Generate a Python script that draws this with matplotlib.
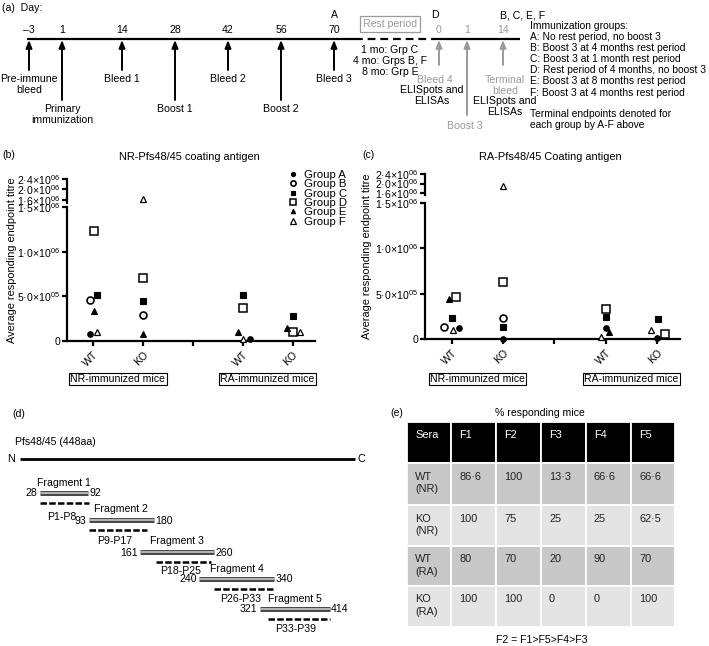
import numpy as np
import matplotlib
matplotlib.use('Agg')
import matplotlib.pyplot as plt
from matplotlib.patches import Rectangle
from matplotlib.lines import Line2D

plt.rcParams['font.family'] = ['Liberation Sans', 'DejaVu Sans']
plt.rcParams['mathtext.fontset'] = 'custom'
plt.rcParams['mathtext.rm'] = 'Liberation Sans'
plt.rcParams['mathtext.default'] = 'regular'

# ------------------------------------------------------------------ data
# (a) immunisation schedule
a_days = [-3, 1, 14, 28, 42, 56, 70]
a_events = ['Pre-immune\nbleed', 'Primary\nimmunization', 'Bleed 1', 'Boost 1',
            'Bleed 2', 'Boost 2', 'Bleed 3']
a_is_boost = [False, True, False, True, False, True, False]
post_days = [0, 1, 14]
post_events = ['Bleed 4', 'Boost 3', 'Terminal\nbleed']
post_is_boost = [False, True, False]
rest_lines = ['1 mo: Grp C', '4 mo: Grps B, F', '8 mo: Grp E']
group_desc = ['Immunization groups:',
              'A: No rest period, no boost 3',
              'B: Boost 3 at 4 months rest period',
              'C: Boost 3 at 1 month rest period',
              'D: Rest period of 4 months, no boost 3',
              'E: Boost 3 at 8 months rest period',
              'F: Boost 3 at 4 months rest period']
endpoint_note = ['Terminal endpoints denoted for', 'each group by A-F above']

# (b), (c) average responding endpoint titres
groups = ['Group A', 'Group B', 'Group C', 'Group D', 'Group E', 'Group F']
categories = ['WT', 'KO', '', 'WT', 'KO']
nan = np.nan
titre_nr = {  # NR-Pfs48/45 coating antigen
    'Group A': [75000, nan, nan, 20000, nan],
    'Group B': [460000, 290000, nan, nan, nan],
    'Group C': [510000, 450000, nan, 515000, 280000],
    'Group D': [1230000, 700000, nan, 370000, 100000],
    'Group E': [340000, 75000, nan, 100000, 145000],
    'Group F': [100000, 1630000, nan, 22000, 100000],
}
titre_ra = {  # RA-Pfs48/45 coating antigen
    'Group A': [120000, 5000, nan, 120000, 15000],
    'Group B': [130000, 230000, nan, nan, nan],
    'Group C': [232000, 130000, nan, 240000, 220000],
    'Group D': [460000, 630000, nan, 330000, 60000],
    'Group E': [440000, nan, nan, 75000, nan],
    'Group F': [100000, 1900000, nan, 20000, 100000],
}
lower_ticks = [0, 5e5, 1e6, 1.5e6]
lower_ticklabels = ['0', '5·0×10$^{05}$', '1·0×10$^{06}$', '1·5×10$^{06}$']
upper_ticks = [1.6e6, 2.0e6, 2.4e6]
upper_ticklabels = ['1·6×10$^{06}$', '2·0×10$^{06}$', '2·4×10$^{06}$']

# (d) Pfs48/45 fragments
protein_len = 448
frag_names = ['Fragment 1', 'Fragment 2', 'Fragment 3', 'Fragment 4', 'Fragment 5']
frag_start = [28, 93, 161, 240, 321]
frag_end = [92, 180, 260, 340, 414]
pep_names = ['P1-P8', 'P9-P17', 'P18-P25', 'P26-P33', 'P33-P39']
pep_start = [28, 93, 183, 260, 332]
pep_end = [93, 170, 256, 340, 415]

# (e) % responding mice
table_cols = ['Sera', 'F1', 'F2', 'F3', 'F4', 'F5']
table_sera = ['WT\n(NR)', 'KO\n(NR)', 'WT\n(RA)', 'KO\n(RA)']
table_vals = [['86·6', '100', '13·3', '66·6', '66·6'],
              ['100', '75', '25', '25', '62·5'],
              ['80', '70', '20', '90', '70'],
              ['100', '100', '0', '0', '100']]

# ------------------------------------------------------------------ layout / style
W, H = 709, 646
fig = plt.figure(figsize=(7.09, 6.46), dpi=100)
bg = fig.add_axes([0, 0, 1, 1])
bg.set_xlim(0, W)
bg.set_ylim(H, 0)
bg.axis('off')
FS = 7.6
GRAY = '#9a9a9a'

def fig_rect(x0, y0, x1, y1):
    return [x0 / W, (H - y1) / H, (x1 - x0) / W, (y1 - y0) / H]

# ---------------- (a)
bg.text(2, 8, '(a)  Day:', fontsize=FS, va='center', ha='left')
xa = lambda d: np.interp(d, [-3, 1, 14, 70], [29, 62, 122, 334])
xp = lambda d: np.interp(d, [0, 1, 14], [439, 467, 503])
yline = 39
bg.plot([27, 355], [yline, yline], color='k', lw=1.6, solid_capstyle='butt')
bg.plot([355, 434], [yline, yline], color='k', lw=1.6, ls=(0, (3.5, 2.2)))
bg.plot([434, 520], [yline, yline], color='k', lw=1.6, solid_capstyle='butt')
for d, ev, boost in zip(a_days, a_events, a_is_boost):
    x = xa(d)
    tail = 100 if boost else 70
    bg.annotate('', xy=(x, yline + 1), xytext=(x, tail),
                arrowprops=dict(arrowstyle='-|>,head_length=0.45,head_width=0.18',
                                color='k', lw=1.4, shrinkA=0, shrinkB=0))
    bg.text(x, 30, str(d).replace('-', '–'), fontsize=FS, ha='center', va='center')
    bg.text(x, tail + 4, ev, fontsize=FS, ha='center', va='top', linespacing=1.15)
bg.text(xa(70), 15, 'A', fontsize=FS, ha='center', va='center')
for d, ev, boost in zip(post_days, post_events, post_is_boost):
    x = xp(d)
    tail = 115 if boost else 65
    bg.annotate('', xy=(x, yline + 1), xytext=(x, tail),
                arrowprops=dict(arrowstyle='-|>,head_length=0.45,head_width=0.18',
                                color=GRAY, lw=1.4, shrinkA=0, shrinkB=0))
    bg.text(x, 30, str(d), fontsize=FS, ha='center', va='center', color=GRAY)
bg.text(xp(0) - 4, 75, post_events[0], fontsize=FS, ha='center', va='top', color=GRAY)
bg.text(xp(0) - 7, 85, 'ELISpots and\nELISAs', fontsize=FS, ha='center', va='top', linespacing=1.15)
bg.text(xp(1) - 2, 121, post_events[1], fontsize=FS, ha='center', va='top', color=GRAY)
bg.text(xp(14) + 2, 75, post_events[2], fontsize=FS, ha='center', va='top', color=GRAY, linespacing=1.15)
bg.text(xp(14) + 2, 96, 'ELISpots and\nELISAs', fontsize=FS, ha='center', va='top', linespacing=1.15)
bg.text(xp(0) - 4, 15, 'D', fontsize=FS, ha='center', va='center')
bg.text(523, 15, 'B, C, E, F', fontsize=FS, ha='center', va='center')
bg.text(390, 24, 'Rest period', fontsize=FS, ha='center', va='center', color=GRAY,
        bbox=dict(boxstyle='square,pad=0.25', fc='white', ec=GRAY, lw=0.9))
for i, t in enumerate(rest_lines):
    bg.text(390, 50 + 11 * i, t, fontsize=FS, ha='center', va='center')
for i, t in enumerate(group_desc):
    bg.text(530, 26 + 11.1 * i, t, fontsize=7.35, ha='left', va='center')
for i, t in enumerate(endpoint_note):
    bg.text(530, 114 + 11 * i, t, fontsize=7.35, ha='left', va='center')

# ---------------- (b), (c)
styles = {
    'Group A': dict(marker='o', mfc='k', mec='k', ms=4.0, mew=0.8),
    'Group B': dict(marker='o', mfc='white', mec='k', ms=5.0, mew=1.2),
    'Group C': dict(marker='s', mfc='k', mec='k', ms=4.2, mew=0.8),
    'Group D': dict(marker='s', mfc='white', mec='k', ms=5.2, mew=1.1),
    'Group E': dict(marker='^', mfc='k', mec='k', ms=4.2, mew=0.8),
    'Group F': dict(marker='^', mfc='white', mec='k', ms=5.0, mew=0.9),
}
# horizontal jitter (category units) of each marker, as in the figure
dx_b = {'Group A': [-0.06, 0, 0, 0.14, 0], 'Group B': [-0.06, 0, 0, 0, 0],
        'Group C': [0.08, 0, 0, 0, 0], 'Group D': [0.02, 0, 0, 0, 0],
        'Group E': [0.02, 0, 0, -0.10, -0.12], 'Group F': [0.08, 0, 0, 0, 0.14]}
dx_c = {'Group A': [0.14, 0, 0, 0, 0], 'Group B': [-0.14, 0, 0, 0, 0],
        'Group C': [0, 0, 0, 0, 0.02], 'Group D': [0.08, 0, 0, 0, 0.16],
        'Group E': [-0.06, 0, 0, 0.06, 0], 'Group F': [0.02, 0, 0, -0.08, -0.12]}

def titre_panel(x0, x1, y_top_up, y_break_up, y_top_lo, y_bot, data, dx, title,
                label, tx, ty, ylab_x, legend=False):
    lo = fig.add_axes(fig_rect(x0, y_top_lo, x1, y_bot))
    up = fig.add_axes(fig_rect(x0, y_top_up, x1, y_break_up))
    pos = np.arange(1, len(categories) + 1)
    for g in groups:
        v = np.array(data[g], dtype=float)
        xs = pos + np.array(dx[g])
        m_lo = v <= 1.5e6
        m_up = v > 1.5e6
        lo.plot(xs[m_lo], v[m_lo], ls='none', clip_on=False, zorder=5, **styles[g])
        up.plot(xs[m_up], v[m_up], ls='none', clip_on=False, zorder=5, **styles[g])
    for a in (lo, up):
        a.set_xlim(0.48, 5.45)
        a.set_facecolor('none')
        for s in ('top', 'right'):
            a.spines[s].set_visible(False)
        a.spines['left'].set_linewidth(1.6)
        a.tick_params(axis='y', length=3.5, width=1.6, labelsize=FS, pad=1.5)
    lo.spines['bottom'].set_linewidth(1.6)
    lo.set_ylim(0, 1.5e6)
    lo.set_yticks(lower_ticks)
    lo.set_yticklabels(lower_ticklabels)
    lo.set_xticks(pos)
    lo.set_xticklabels(categories, rotation=45, ha='right', rotation_mode='anchor',
                       fontsize=FS)
    lo.tick_params(axis='x', length=3.5, width=1.6, pad=3)
    up.set_ylim(1.5e6, 2.4e6)
    up.set_yticks(upper_ticks)
    up.set_yticklabels(upper_ticklabels)
    up.spines['bottom'].set_visible(False)
    up.set_xticks([])
    for t in up.get_yticklabels() + lo.get_yticklabels():
        t.set_fontsize(FS)
    yc = (y_top_up + y_bot) / 2
    bg.text(ylab_x, yc, 'Average responding endpoint titre', rotation=90,
            fontsize=FS + 0.3, ha='center', va='center')
    bg.text(tx, ty, label, fontsize=FS, ha='left', va='center')
    bg.text((x0 + x1) / 2 - 2, 157, title, fontsize=FS + 0.3, ha='center', va='center')
    yfrac = -(379 - y_bot) / (y_bot - y_top_lo)
    for xc, t in [(1.5, 'NR-immunized mice'), (4.5, 'RA-immunized mice')]:
        lo.text(xc, yfrac, t, transform=lo.get_xaxis_transform(), fontsize=FS,
                ha='center', va='center',
                bbox=dict(boxstyle='square,pad=0.12', fc='white', ec='k', lw=0.8))
    if legend:
        handles = [Line2D([], [], ls='none', **{**styles[g], 'ms': styles[g]['ms'] * 0.75})
                   for g in groups]
        lo.legend(handles, groups, loc='upper left', frameon=False,
                  bbox_to_anchor=((283 / W), (H - 164) / H), bbox_transform=fig.transFigure,
                  fontsize=FS + 0.6, handlelength=0.8, handletextpad=0.5,
                  labelspacing=-0.05, borderpad=0)
    return lo, up

titre_panel(67, 315, 179, 202.6, 207, 341, titre_nr, dx_b,
            'NR-Pfs48/45 coating antigen', '(b)', 2, 155, 12, legend=True)
titre_panel(425, 680, 174, 195.4, 203, 339, titre_ra, dx_c,
            'RA-Pfs48/45 Coating antigen', '(c)', 362, 155, 367)

# ---------------- (d)
bg.text(12, 414, '(d)', fontsize=FS, ha='left', va='center')
bg.text(15, 442, 'Pfs48/45 (448aa)', fontsize=FS, ha='left', va='center')
ad = fig.add_axes([19 / W, 0, 340 / W, 1])
ad.set_xlim(0, 340 / 0.75)
ad.set_ylim(H, 0)
ad.axis('off')
ad.plot([1, protein_len], [459, 459], color='k', lw=2.0, solid_capstyle='butt')
ad.text(-5, 459, 'N', fontsize=FS + 0.3, ha='right', va='center')
ad.text(protein_len + 4, 459, 'C', fontsize=FS + 0.3, ha='left', va='center')
frag_y = [493, 520, 552, 579, 609]
pep_label_dy = [14, 11, 9.5, 10, 10]
for i in range(len(frag_names)):
    y = frag_y[i]
    s, e = frag_start[i], frag_end[i]
    ad.plot([s, e], [y, y], color='#4a4a4a', lw=3.6, solid_capstyle='butt')
    ad.plot([s, e], [y, y], color='#b5b5b5', lw=1.4, solid_capstyle='butt')
    ad.text((s + e) / 2, y - 10.5, frag_names[i], fontsize=FS, ha='center', va='center')
    ad.text(s - 3, y + 0.5, str(s), fontsize=FS, ha='right', va='center')
    ad.text(e + 2, y + 0.5, str(e), fontsize=FS, ha='left', va='center')
    yd = y + 9.5
    ad.plot([pep_start[i], pep_end[i]], [yd, yd], color='k', lw=1.8,
            ls=(0, (2.6, 0.9)), dash_capstyle='butt')
    ad.text((pep_start[i] + pep_end[i]) / 2 - 4, yd + pep_label_dy[i], pep_names[i],
            fontsize=FS, ha='center', va='center')

# ---------------- (e)
bg.text(390, 413, '(e)', fontsize=FS, ha='left', va='center')
bg.text(540, 413, '% responding mice', fontsize=FS, ha='center', va='center')
col_edges = [407, 451, 496, 541, 586, 631, 675]
row_edges = [422, 463, 505, 546, 586, 627]
row_colors = ['#000000', '#c8c8c8', '#e4e4e4', '#c8c8c8', '#e4e4e4']
rows = [table_cols] + [[s] + v for s, v in zip(table_sera, table_vals)]
for r, row in enumerate(rows):
    for c, txt in enumerate(row):
        x0, x1 = col_edges[c], col_edges[c + 1]
        y0, y1 = row_edges[r], row_edges[r + 1]
        bg.add_patch(Rectangle((x0, y0), x1 - x0, y1 - y0, fc=row_colors[r],
                               ec='white', lw=1.3))
        bg.text(x0 + 8, y0 + 8.5, txt, fontsize=FS + 0.3, ha='left', va='top',
                color='white' if r == 0 else '#222222', linespacing=1.35)
bg.text(542, 640, 'F2 = F1>F5>F4>F3', fontsize=FS, ha='center', va='center')

fig.savefig('out.png', dpi=100)
